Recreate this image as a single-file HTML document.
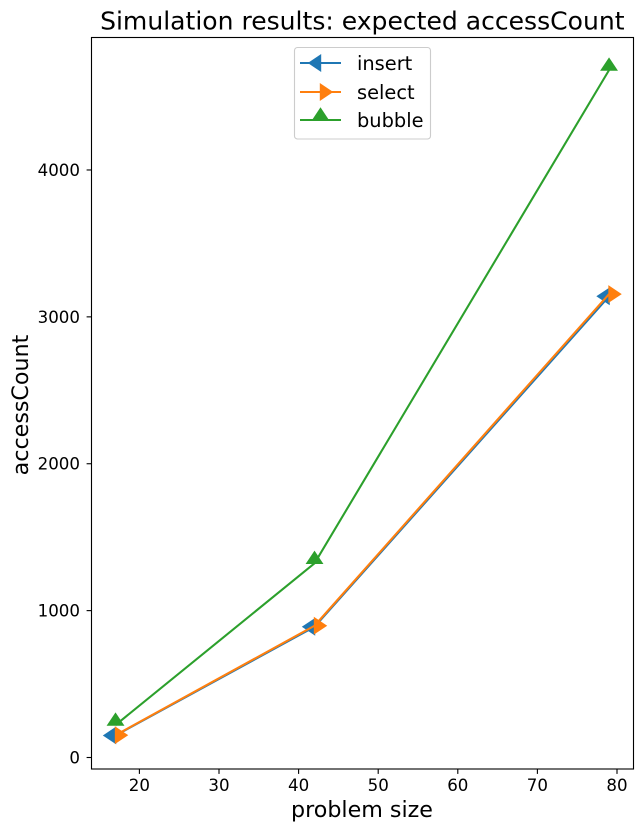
<!DOCTYPE html>
<html>
<head>
<meta charset="utf-8">
<title>Simulation results: expected accessCount</title>
<style>
html,body{margin:0;padding:0;background:#fff;width:643px;height:832px;overflow:hidden}
svg{display:block}
text{font-family:"DejaVu Sans","Liberation Sans",sans-serif;fill:#000}
</style>
</head>
<body>
<svg id="chart" xmlns="http://www.w3.org/2000/svg" width="643" height="832" viewBox="0 0 643 832">
  <rect x="0" y="0" width="643" height="832" fill="#fff"/>
  <text x="362.3" y="29.5" font-size="25.05" text-anchor="middle">Simulation results: expected accessCount</text>
  <text x="362" y="817" font-size="22.2" text-anchor="middle">problem size</text>
  <text transform="translate(28,405) rotate(-90)" font-size="22.2" text-anchor="middle">accessCount</text>
  <g id="ticks"></g>
  <g id="series"></g>
  <rect x="91.5" y="37.5" width="542" height="731.5" fill="none" stroke="#000" stroke-width="1.11"/>
  <g id="legend">
    <rect x="294.5" y="47.5" width="136" height="91.5" rx="3" ry="3" fill="#fff" fill-opacity="0.8" stroke="#ccc" stroke-width="1.11"/>
  </g>
</svg>
<script>
const xCategories = [17, 42, 79];
const seriesNames = ['insert', 'select', 'bubble'];
const insertValues = [150, 890, 3140];
const selectValues = [152, 897, 3155];
const bubbleValues = [221, 1322, 4680];
const xTickLabels = [20, 30, 40, 50, 60, 70, 80];
const yTickLabels = [0, 1000, 2000, 3000, 4000];

const NS = 'http://www.w3.org/2000/svg';
const seriesValues = [insertValues, selectValues, bubbleValues];
const seriesColors = ['#1f77b4', '#ff7f0e', '#2ca02c'];
const seriesDirs = ['left', 'right', 'up'];
const legendRows = [63, 92, 120];

function xScale(v) { return 139.4 + (v - 20) * 7.96; }
function yScale(v) { return 757.5 - v * 0.14688; }

function make(tag, attrs, parent) {
  const el = document.createElementNS(NS, tag);
  for (const k in attrs) el.setAttribute(k, attrs[k]);
  parent.appendChild(el);
  return el;
}

function caretPoints(x, y, dir) {
  const h = 7.64, t = 11.46;
  if (dir === 'left') return [[x, y - h], [x, y + h], [x - t, y]];
  if (dir === 'right') return [[x, y - h], [x, y + h], [x + t, y]];
  return [[x - h, y], [x + h, y], [x, y - t]];
}

function drawMarker(parent, x, y, dir, color, name) {
  const pts = caretPoints(x, y, dir).map(function (p) { return p.join(','); }).join(' ');
  const m = make('polygon', { points: pts, fill: color, stroke: color, 'stroke-width': 1.39, 'stroke-linejoin': 'miter' }, parent);
  
  
}

const ticksGroup = document.getElementById('ticks');
xTickLabels.forEach(function (v) {
  const px = xScale(v);
  const line = make('line', { x1: px, x2: px, y1: 769, y2: 773.9, stroke: '#000', 'stroke-width': 1.11 }, ticksGroup);
  
  
  const label = make('text', { x: px, y: 791, 'font-size': 16.67, 'text-anchor': 'middle' }, ticksGroup);
  
  
  label.textContent = v;
});
yTickLabels.forEach(function (v) {
  const py = yScale(v);
  const line = make('line', { x1: 86.6, x2: 91.5, y1: py, y2: py, stroke: '#000', 'stroke-width': 1.11 }, ticksGroup);
  
  
  const label = make('text', { x: 80, y: py + 6, 'font-size': 16.67, 'text-anchor': 'end' }, ticksGroup);
  
  
  label.textContent = v;
});

const seriesGroup = document.getElementById('series');
seriesValues.forEach(function (values, i) {
  const pts = values.map(function (v, j) { return xScale(xCategories[j]) + ',' + yScale(v); }).join(' ');
  const line = make('polyline', { points: pts, fill: 'none', stroke: seriesColors[i], 'stroke-width': 2.08, 'stroke-linejoin': 'round' }, seriesGroup);
  
  
  values.forEach(function (v, j) {
    drawMarker(seriesGroup, xScale(xCategories[j]), yScale(v), seriesDirs[i], seriesColors[i], 'series-marker');
  });
});

const legendGroup = document.getElementById('legend');
seriesNames.forEach(function (name, i) {
  const y = legendRows[i];
  const line = make('line', { x1: 300, x2: 341, y1: y, y2: y, stroke: seriesColors[i], 'stroke-width': 2.08 }, legendGroup);
  
  
  drawMarker(legendGroup, 320.5, y, seriesDirs[i], seriesColors[i], 'legend-marker');
  const label = make('text', { x: 357, y: y + 7, 'font-size': 19.4 }, legendGroup);
  
  
  label.textContent = name;
});
</script>
</body>
</html>
